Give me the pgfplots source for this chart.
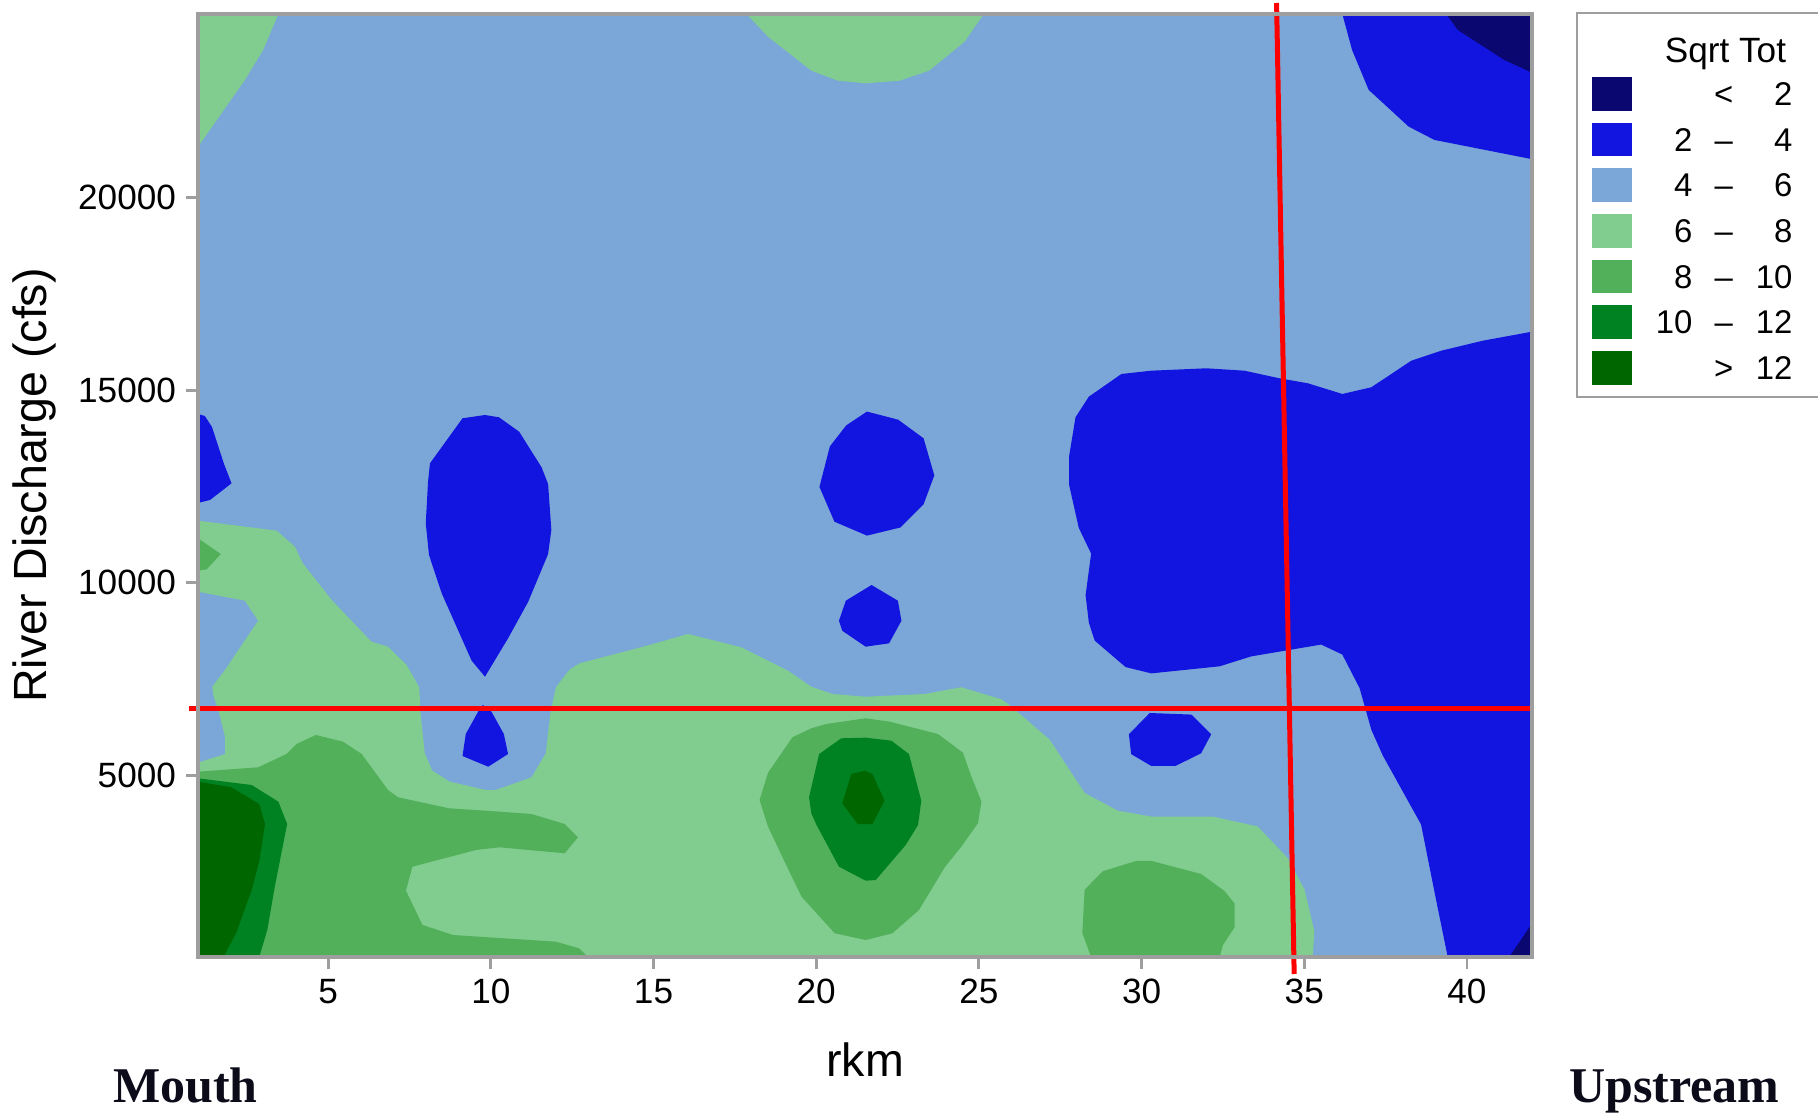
\documentclass[border=0pt]{standalone}
\usepackage{fontspec}
\setmainfont{Liberation Sans}
\newfontfamily\serifbold{Liberation Serif}
\usepackage{pgfplots}
\pgfplotsset{compat=1.18}
\definecolor{cnavy}{HTML}{0A0870}
\definecolor{cblue}{HTML}{1214E0}
\definecolor{clblue}{HTML}{7BA7D8}
\definecolor{clgreen}{HTML}{80CD8F}
\definecolor{cmgreen}{HTML}{52B05A}
\definecolor{cgreen}{HTML}{008223}
\definecolor{cdgreen}{HTML}{006600}
\definecolor{frame}{HTML}{9E9E9E}
\definecolor{txtdark}{HTML}{0B0B1A}
\begin{document}
\begin{tikzpicture}
\path[use as bounding box] (-69.3pt,-54.25pt) rectangle (567pt,334.95pt);
\begin{axis}[
  at={(0pt,0pt)}, anchor=south west,
  scale only axis, width=466.9pt, height=330.05pt,
  xmin=1, xmax=42, ymin=280, ymax=24770,
  axis on top,
  clip=false,
  no markers,
  axis line style={draw=frame, line width=1.2pt},
  tick style={draw=frame, line width=1pt},
  tick align=outside, major tick length=4.2pt,
  xtick={5,10,...,40}, ytick={5000,10000,15000,20000},
  scaled y ticks=false, scaled x ticks=false,
  tick pos=left,
  minor tick num=0,
  /pgf/number format/assume math mode=true,
  /pgf/number format/1000 sep={},
  ticklabel style={font=\fontsize{12.3}{14}\selectfont},
  label style={font=\fontsize{16.3}{19}\selectfont},
  xlabel={rkm}, ylabel={River Discharge (cfs)},
  xlabel style={at={(axis description cs:0.5,-0.1262)}, anchor=base},
  ylabel style={at={(axis description cs:-0.1132,0.5)}, anchor=base},
]
% background 4-6
\addplot[fill=clblue, draw=none] coordinates {(1,280) (42,280) (42,24770) (1,24770)};
% 6-8
\addplot[fill=clgreen, draw=none] coordinates {(1,24770) (3.47,24770) (3.0,23835) (2.44,23055) (1,21320)};
\addplot[fill=clgreen, draw=none] coordinates {(17.86,24770) (18.52,24181) (19.85,23298) (20.67,23038) (21.51,22970) (22.56,23038) (23.47,23298) (24.56,24051) (25.15,24770)};
\addplot[fill=clgreen, draw=none] coordinates {
(1,11611) (3.42,11352) (3.98,10936) (4.22,10505) (5.11,9552) (6.33,8469) (6.84,8339) (7.41,7864) (7.80,7285) (7.84,6609) (7.97,5571) (8.20,5119) (8.74,4833) (9.85,4617) (10.15,4617) (11.25,4947) (11.69,5571) (11.83,6609) (12.00,7285) (12.41,7734) (12.73,7908) (14.88,8383) (16.06,8669) (17.70,8323) (19.13,7716) (19.85,7300) (20.50,7111) (21.52,7040) (23.33,7111) (24.46,7285) (25.69,6973) (25.94,6825) (27.17,5929) (28.25,4542) (29.27,4080) (30.30,3927) (32.19,3927) (33.57,3670) (34.49,2849) (35.01,2028) (35.31,948) (35.26,280)
(1,280) (1,5327) (1.83,5552) (1.83,6002) (1.65,6609) (1.47,7085) (1.44,7300) (1.83,7734) (2.62,8729) (2.85,9014) (2.44,9534) (1,9767)};
% 8-10
\addplot[fill=cmgreen, draw=none] coordinates {(1,11154) (1.70,10746) (1.27,10349) (1,10313)};
\addplot[fill=cmgreen, draw=none] coordinates {
(1,5093) (2.85,5207) (3.72,5552) (4.03,5812) (4.62,6046) (5.46,5872) (6.03,5552) (6.84,4617) (7.15,4428) (8.72,4142) (9.85,4080) (11.25,3994) (12.27,3734) (12.68,3389) (12.27,2974) (10.26,3129) (9.54,3059) (7.59,2626) (7.39,2002) (7.90,1112) (8.84,852) (12.00,678) (12.71,506) (12.99,280) (1,280)};
\addplot[fill=cmgreen, draw=none] coordinates {
(18.26,4358) (18.52,5067) (19.27,5986) (19.85,6220) (20.31,6331) (21.52,6480) (22.26,6391) (23.74,6072) (24.51,5586) (24.77,4963) (25.08,4314) (24.97,3753) (24.46,3145) (23.95,2610) (23.16,1501) (22.34,896) (21.52,722) (20.57,896) (19.55,1846) (19.03,2755) (18.52,3664)};
\addplot[fill=cmgreen, draw=none] coordinates {
(28.25,2028) (28.81,2509) (29.84,2776) (30.30,2776) (31.83,2436) (32.55,1994) (32.86,1667) (32.86,1052) (32.50,590) (32.40,280) (28.45,280) (28.18,899)};
% 10-12
\addplot[fill=cgreen, draw=none] coordinates {(1,4921) (2.65,4747) (3.47,4314) (3.74,3734) (3.36,2106) (3.13,982) (2.88,280) (1,280)};
\addplot[fill=cgreen, draw=none] coordinates {
(19.78,4428) (20.09,5552) (20.77,5960) (21.52,5976) (22.31,5898) (22.85,5552) (23.23,4340) (23.13,3709) (22.75,3189) (21.83,2280) (21.52,2262) (20.70,2626) (20.01,3709) (19.85,4012)};
% >12
\addplot[fill=cdgreen, draw=none] coordinates {(1,4833) (2.03,4688) (2.88,4254) (3.06,3734) (2.88,2755) (2.65,2020) (2.17,896) (1.78,280) (1,280)};
\addplot[fill=cdgreen, draw=none] coordinates {(20.80,4272) (21.08,5033) (21.49,5119) (21.73,5033) (22.10,4340) (21.73,3734) (21.28,3734)};
% 2-4
\addplot[fill=cblue, draw=none] coordinates {
(28.38,14832) (27.97,14299) (27.77,13271) (27.77,12554) (28.07,11424) (28.45,10757) (28.28,9676) (28.38,8960) (28.56,8497) (29.51,7809) (30.30,7646) (32.40,7830) (33.37,8087) (35.52,8394) (36.17,8136) (36.70,7264) (37.06,6186) (37.41,5519) (38.59,3722) (39.05,1771) (39.41,280) (42,280) (42,16520) (40.49,16286) (39.21,16026) (38.29,15766) (37.06,15076) (36.17,14902) (35.11,15180) (34.24,15309) (33.16,15507) (31.99,15569) (30.30,15507) (29.38,15421)};
\addplot[fill=cblue, draw=none] coordinates {(36.17,24770) (36.47,23835) (36.98,22800) (38.21,21845) (39.0,21500) (42,21000) (42,24770)};
\addplot[fill=cblue, draw=none] coordinates {(1,14382) (1.21,14330) (1.43,14045) (1.80,13084) (2.03,12582) (1.37,12149) (1,12071)};
\addplot[fill=cblue, draw=none] coordinates {
(9.13,14271) (9.82,14356) (10.25,14297) (10.87,13923) (11.56,12998) (11.76,12564) (11.86,11370) (11.76,10746) (11.15,9508) (10.53,8557) (9.82,7560) (9.41,7975) (8.49,9726) (8.10,10720) (8.00,11544) (8.07,12624) (8.13,13102)};
\addplot[fill=cblue, draw=none] coordinates {(9.75,6825) (10.02,6651) (10.40,6072) (10.53,5552) (9.92,5223) (9.13,5500) (9.23,6072) (9.61,6651)};
\addplot[fill=cblue, draw=none] coordinates {(21.56,14445) (22.52,14234) (23.30,13751) (23.63,12788) (23.30,12037) (22.59,11435) (21.56,11224) (20.56,11585) (20.10,12489) (20.42,13541) (20.92,14084)};
\addplot[fill=cblue, draw=none] coordinates {(20.70,9014) (20.91,9534) (21.70,9941) (22.51,9534) (22.62,9014) (22.24,8427) (21.52,8339) (20.80,8754)};
\addplot[fill=cblue, draw=none] coordinates {(29.61,6064) (30.25,6617) (31.53,6576) (32.14,6064) (31.83,5571) (31.04,5241) (30.30,5241) (29.68,5550)};
% <2
\addplot[fill=cnavy, draw=none] coordinates {(39.36,24770) (39.72,24355) (41.15,23576) (42,23246) (42,24770)};
\addplot[fill=cnavy, draw=none] coordinates {(41.30,280) (41.92,1052) (42,1100) (42,280)};
% red reference lines
\addplot[draw=red, line width=1.75pt] coordinates {(0.72,6729) (42,6729)};
\addplot[draw=red, line width=1.75pt] coordinates {(34.15,25056) (34.69,-161)};
\end{axis}
% legend
\draw[frame, line width=1pt] (482.65pt,196pt) rectangle (568.75pt,330.4pt);
\node[anchor=base, inner sep=0pt, font=\fontsize{12.3}{14}\selectfont] at (534.6pt,313.1pt) {Sqrt Tot};
\foreach \c/\yc/\l/\m/\r in {cnavy/302.1//</2, cblue/286.1/2/--/4, clblue/270.2/4/--/6, clgreen/254.2/6/--/8, cmgreen/238.2/8/--/10, cgreen/222.2/10/--/12, cdgreen/206.2//>/12}{
  \fill[\c] (487.9pt,\yc pt-5.9pt) rectangle (501.8pt,\yc pt+5.9pt);
  \node[anchor=base east, inner sep=0pt, font=\fontsize{11.5}{13}\selectfont] at (523.25pt,\yc pt-4.1pt) {\l};
  \node[anchor=base, inner sep=0pt, font=\fontsize{11.5}{13}\selectfont] at (534pt,\yc pt-4.1pt) {\m};
  \node[anchor=base east, inner sep=0pt, font=\fontsize{11.5}{13}\selectfont] at (558.25pt,\yc pt-4.1pt) {\r};
}
\node[anchor=base west, inner sep=0pt, text=txtdark, font=\fontsize{17.5}{21}\selectfont\serifbold\bfseries] at (-29.9pt,-50.96pt) {Mouth};
\node[anchor=base west, inner sep=0pt, text=txtdark, font=\fontsize{17.5}{21}\selectfont\serifbold\bfseries] at (479.7pt,-50.96pt) {Upstream};
\end{tikzpicture}
\end{document}
